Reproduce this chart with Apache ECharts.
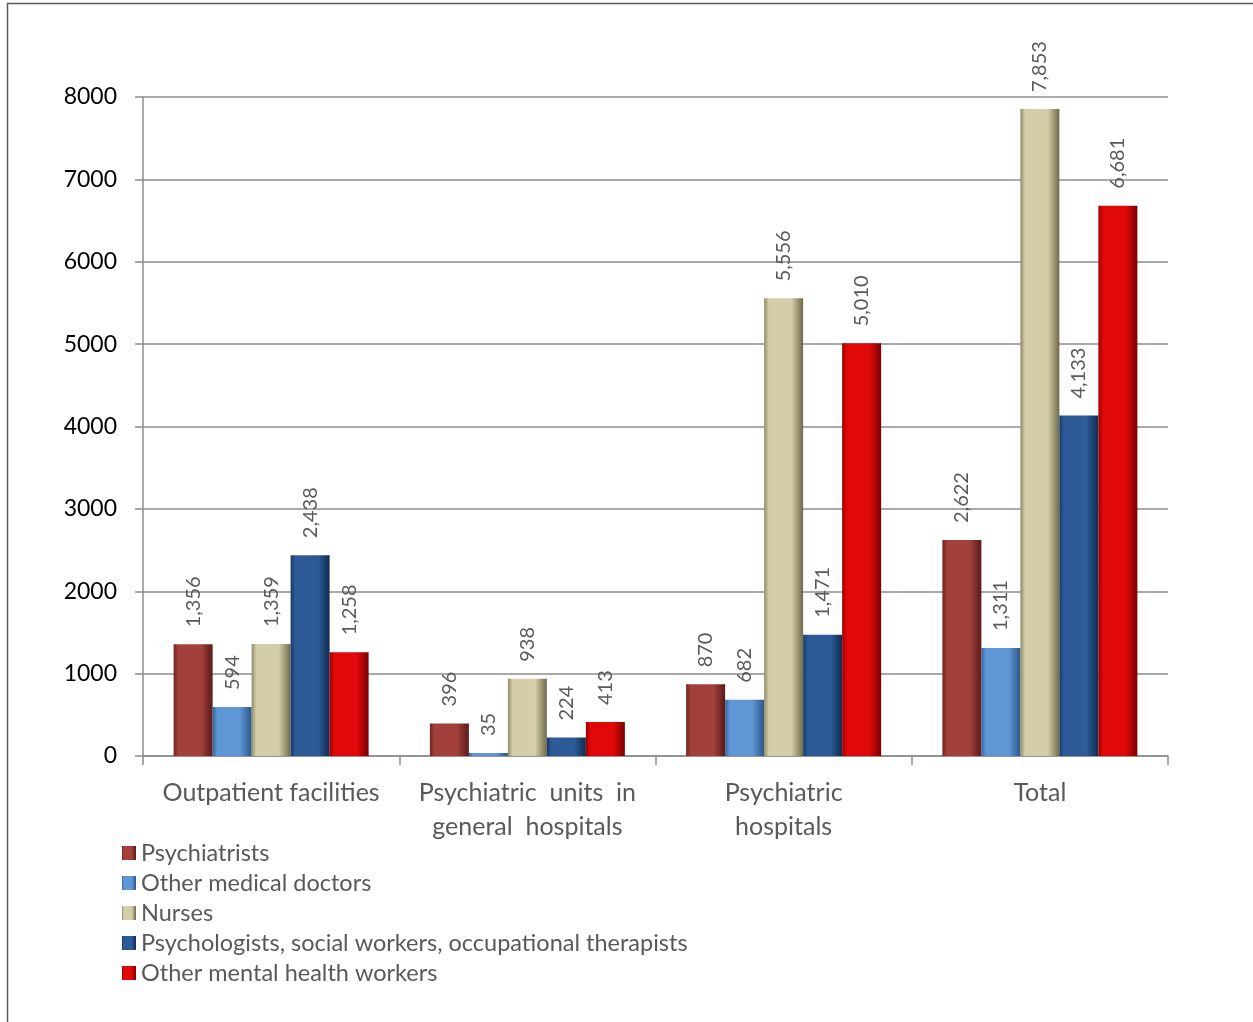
<!DOCTYPE html>
<html>
<head>
<meta charset="utf-8">
<script src="https://cdn.jsdelivr.net/npm/echarts@6/dist/echarts.min.js"></script>
<style>
  html, body { margin: 0; padding: 0; background: #ffffff; }
  #chart { width: 1253px; height: 1022px; }
</style>
</head>
<body>
<div id="chart"></div>
<script>
// Mental health workforce by setting
const categories = [
  'Outpatient facilities',
  'Psychiatric  units  in\ngeneral  hospitals',
  'Psychiatric\nhospitals',
  'Total'
];
const psychiatrists = [1356, 396, 870, 2622];
const otherDoctors = [594, 35, 682, 1311];
const nurses = [1359, 938, 5556, 7853];
const psychologists = [2438, 224, 1471, 4133];
const otherWorkers = [1258, 413, 5010, 6681];

const seriesNames = [
  'Psychiatrists',
  'Other medical doctors',
  'Nurses',
  'Psychologists, social workers, occupational therapists',
  'Other mental health workers'
];
const yTicks = { min: 0, max: 8000, interval: 1000 };

// edge, middle, far edge shades for the bevelled look
const palette = [
  ['#6e2422', '#a3403c', '#5a1a18'],
  ['#34659f', '#5f97d6', '#2b5585'],
  ['#8f8a67', '#d3cda8', '#6f6a4c'],
  ['#173a66', '#2c5b98', '#112c4f'],
  ['#9c0000', '#e00808', '#7a0000']
];

function barFill(c) {
  return new echarts.graphic.LinearGradient(0, 0, 1, 0, [
    { offset: 0, color: c[0] },
    { offset: 0.12, color: c[1] },
    { offset: 0.7, color: c[1] },
    { offset: 1, color: c[2] }
  ]);
}

// thousands separator, e.g. 2622 -> "2,622"
function withCommas(v) {
  return String(v).replace(/\B(?=(\d{3})+(?!\d))/g, ',');
}

const fontFamily = 'Lato, "Open Sans", sans-serif';
const dataSets = [psychiatrists, otherDoctors, nurses, psychologists, otherWorkers];

const series = dataSets.map((values, i) => ({
  name: seriesNames[i],
  type: 'bar',
  data: values,
  barWidth: 39,
  barGap: '0%',
  itemStyle: { color: barFill(palette[i]) },
  label: {
    show: true,
    position: 'top',
    rotate: 90,
    align: 'left',
    verticalAlign: 'middle',
    distance: 17,
    color: '#595959',
    fontSize: 20,
    fontFamily: fontFamily,
    formatter: p => withCommas(p.value)
  }
}));

const chart = echarts.init(document.getElementById('chart'));
chart.setOption({
  animation: false,
  backgroundColor: '#ffffff',
  color: palette.map(c => c[1]),
  grid: { left: 143, right: 85, top: 97, bottom: 266, containLabel: false },
  legend: {
    orient: 'vertical',
    left: 122,
    top: 841,
    padding: 0,
    icon: 'rect',
    itemWidth: 14,
    itemHeight: 14,
    itemGap: 6,
    textStyle: { color: '#595959', fontSize: 23.5, lineHeight: 24, fontFamily: fontFamily },
    data: seriesNames
  },
  xAxis: {
    type: 'category',
    data: categories,
    axisLine: { lineStyle: { color: '#8c8c8c', width: 1.5 } },
    axisTick: { show: true, length: 9, lineStyle: { color: '#8c8c8c', width: 1.5 } },
    axisLabel: {
      color: '#595959',
      fontSize: 25,
      lineHeight: 34,
      margin: 20,
      fontFamily: fontFamily,
      interval: 0
    }
  },
  yAxis: {
    type: 'value',
    min: yTicks.min,
    max: yTicks.max,
    interval: yTicks.interval,
    axisLine: { show: true, lineStyle: { color: '#8c8c8c', width: 1.5 } },
    axisTick: { show: true, length: 8, lineStyle: { color: '#8c8c8c', width: 1.5 } },
    splitLine: { lineStyle: { color: '#8c8c8c', width: 1.5 } },
    axisLabel: {
      color: '#000000',
      fontSize: 23,
      margin: 26,
      fontFamily: fontFamily,
      formatter: v => String(v)
    }
  },
  graphic: [{
    type: 'rect',
    shape: { x: 7.5, y: 3.5, width: 1400, height: 1200 },
    style: { fill: null, stroke: '#595959', lineWidth: 1.5 },
    silent: true,
    z: -1
  }],
  series: series
});
</script>
</body>
</html>
